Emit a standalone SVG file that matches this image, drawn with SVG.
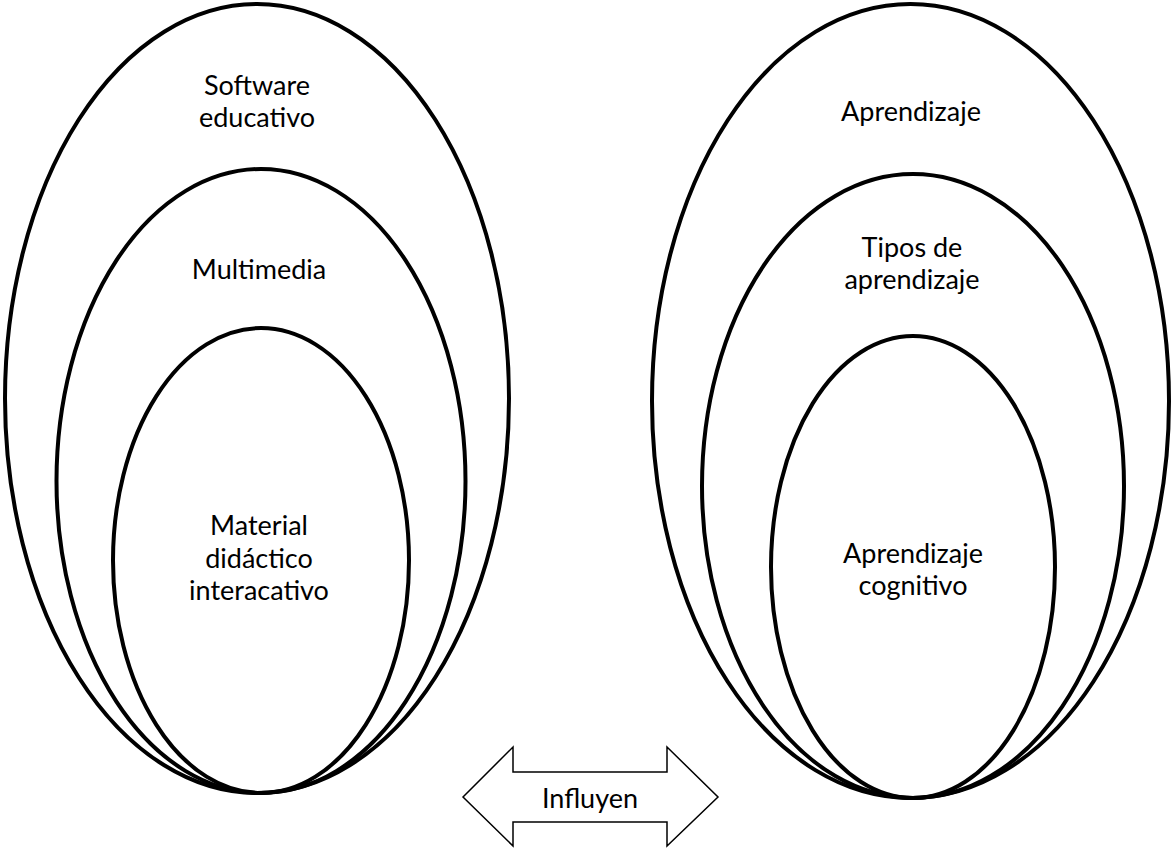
<svg xmlns="http://www.w3.org/2000/svg" width="1172" height="848" viewBox="0 0 1172 848">
<style>
.e{fill:none;stroke:#000;stroke-width:4}
.t{font-family:Lato,"Liberation Sans",sans-serif;font-size:27px;fill:#000;text-anchor:middle}
.a{fill:#fff;stroke:#000;stroke-width:1.5;stroke-linejoin:miter}
</style>
<rect width="1172" height="848" fill="#fff"/>
<g id="software-educativo">
<ellipse class="e" cx="257" cy="398.5" rx="252" ry="394.5"/>
<text class="t" x="257" y="95">Software</text>
<text class="t" x="257" y="127">educativo</text>
</g>
<g id="multimedia">
<ellipse class="e" cx="261" cy="481" rx="204.5" ry="312"/>
<text class="t" x="259" y="279">Multimedia</text>
</g>
<g id="material-didactico">
<ellipse class="e" cx="261" cy="560.5" rx="148" ry="232.5"/>
<text class="t" x="259" y="535">Material</text>
<text class="t" x="259" y="568">didáctico</text>
<text class="t" x="259" y="600">interacativo</text>
</g>
<g id="aprendizaje">
<ellipse class="e" cx="910.5" cy="401" rx="258.5" ry="397"/>
<text class="t" x="911" y="121">Aprendizaje</text>
</g>
<g id="tipos-aprendizaje">
<ellipse class="e" cx="913" cy="486" rx="211" ry="312"/>
<text class="t" x="912" y="257">Tipos de</text>
<text class="t" x="912" y="289">aprendizaje</text>
</g>
<g id="aprendizaje-cognitivo">
<ellipse class="e" cx="913" cy="567" rx="142" ry="231"/>
<text class="t" x="913" y="563">Aprendizaje</text>
<text class="t" x="913" y="595">cognitivo</text>
</g>
<g id="connectors">
<g id="influyen">
<path class="a" d="M463,797 L513,747 L513,772 L667,772 L667,747 L718,797 L667,846 L667,822 L513,822 L513,846 Z"/>
<text class="t" x="590" y="808">Influyen</text>
</g>
</g>
</svg>
